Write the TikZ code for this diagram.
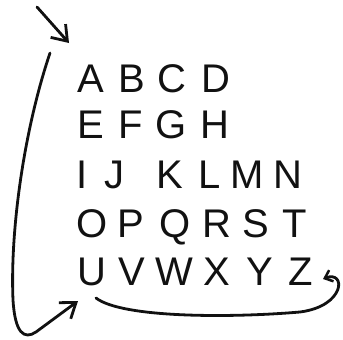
\documentclass[tikz,border=0pt]{standalone}
\usepackage{fontspec}
\setmainfont{Liberation Sans}
\usepackage{tikz}
\usetikzlibrary{arrows.meta}
\definecolor{InkBlack}{HTML}{111111}

\begin{document}
\begin{tikzpicture}[x=1pt,y=-1pt,
  letter/.style={inner sep=0pt,anchor=base,text=InkBlack,font=\fontsize{40}{48}\selectfont},
  bigarrow/.style={line width=2.8pt,InkBlack,line cap=round,-{Straight Barb[length=14pt,width=20pt,line width=2.8pt]}},
  smallarrow/.style={line width=2.8pt,InkBlack,line cap=round,-{Straight Barb[length=7pt,width=12pt,line width=2.5pt]}}]
  \useasboundingbox (0,0) rectangle (343,340);
  % the alphabet, letter by letter
  \foreach \ch/\x/\y in {A/91/92,B/131.5/92,C/171.5/92,D/215.5/92,
      E/91/138,F/131/138,G/171/138,H/215/138,
      I/82.5/188,J/114.5/188,K/170/188,L/210/188,M/247/188,N/287.5/188,
      O/92.5/237,P/131/237,Q/175/237,R/216.5/237,S/256/237,T/295/237,
      U/91.5/285,V/131.5/285,W/174/285,X/216.5/285,Y/260/285,Z/301/285}
    \node[letter] (\ch) at (\x,\y) {\ch};
  % arrow ends
  \coordinate (inStart) at (37,7);
  \coordinate (inTip) at (69,43);
  \coordinate (upStart) at (50,53);
  \coordinate (upTip) at (78,301);
  \coordinate (backStart) at (96,298);
  \coordinate (backTip) at (323,279);
  \draw[bigarrow] (inStart) -- (inTip);
  \draw[bigarrow] (upStart) .. controls (24,130) and (10,230) .. (13,300)
    .. controls (15,333) and (24,340) .. (36,332) -- (upTip);
  \draw[smallarrow] (backStart) .. controls (122,318) and (230,318) .. (300,312)
    .. controls (346,306) and (346,270) .. (backTip);
\end{tikzpicture}
\end{document}
